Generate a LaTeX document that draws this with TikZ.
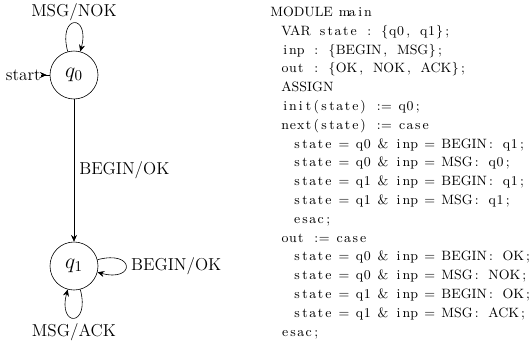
\documentclass[tikz,border=0pt]{standalone}
\usepackage{tikz}
\usetikzlibrary{positioning,arrows.meta}
\tikzstyle{stateStyle} = [circle, draw, minimum size=32pt, inner sep=0pt, font=\Large]
\tikzstyle{arrowLine} = [-{Stealth[length=4.5pt,width=4pt]}]
\tikzstyle{labelText} = [font=\fontsize{11.5}{13}\selectfont]
\tikzstyle{startText} = [labelText, anchor=east, inner sep=0pt]
\tikzstyle{codeLine} = [anchor=base west, inner sep=0pt, font=\small]
\newcommand{\codeWidth}{5.2pt}
% one fixed column per character, capitals at their own width
\ExplSyntaxOn
\NewDocumentCommand{\codeText}{m}{
  \str_map_inline:nn {#1} {
    \str_if_in:nnTF {ABCDEFGHIJKLMNOPQRSTUVWXYZ} {##1}
      {##1}
      {\makebox[\codeWidth]{##1}}
  }
}
\ExplSyntaxOff
\begin{document}
\begin{tikzpicture}[x=0.6667pt, y=0.6667pt]
  \useasboundingbox (0,0) rectangle (530,341);
  % automaton
  \node [stateStyle] (q0) at (74,266) {$q_0$};
  \node [stateStyle] (q1) at (74,75) {$q_1$};
  \node [startText] (start) at (41,266) {start};
  \draw [arrowLine, shorten >=2pt] (start) -- (q0);
  \draw (start) -- (q0);
  \draw [arrowLine] (q0) -- node [labelText, right] {BEGIN/OK} (q1);
  \draw [arrowLine] (q0) to [loop above] node [labelText, above, inner sep=1pt] {MSG/NOK} (q0);
  \draw [arrowLine] (q1) to [loop right] node [labelText, right] {BEGIN/OK} (q1);
  \draw [arrowLine] (q1) to [loop below] node [labelText, below] {MSG/ACK} (q1);
  % smv model
  \node [codeLine] (line0) at (270,324.5) {\codeText{MODULE main}};
  \node [codeLine] (line1) at (281,305.7) {\codeText{VAR state : {q0, q1};}};
  \node [codeLine] (line2) at (281,286.9) {\codeText{inp : {BEGIN, MSG};}};
  \node [codeLine] (line3) at (281,268.1) {\codeText{out : {OK, NOK, ACK};}};
  \node [codeLine] (line4) at (281,249.3) {\codeText{ASSIGN}};
  \node [codeLine] (line5) at (281,230.5) {\codeText{init(state) := q0;}};
  \node [codeLine] (line6) at (281,211.7) {\codeText{next(state) := case}};
  \node [codeLine] (line7) at (293,192.9) {\codeText{state = q0 & inp = BEGIN: q1;}};
  \node [codeLine] (line8) at (293,174.1) {\codeText{state = q0 & inp = MSG: q0;}};
  \node [codeLine] (line9) at (293,155.3) {\codeText{state = q1 & inp = BEGIN: q1;}};
  \node [codeLine] (line10) at (293,136.5) {\codeText{state = q1 & inp = MSG: q1;}};
  \node [codeLine] (line11) at (293,117.7) {\codeText{esac;}};
  \node [codeLine] (line12) at (281,98.9) {\codeText{out := case}};
  \node [codeLine] (line13) at (293,80.1) {\codeText{state = q0 & inp = BEGIN: OK;}};
  \node [codeLine] (line14) at (293,61.3) {\codeText{state = q0 & inp = MSG: NOK;}};
  \node [codeLine] (line15) at (293,42.5) {\codeText{state = q1 & inp = BEGIN: OK;}};
  \node [codeLine] (line16) at (293,23.7) {\codeText{state = q1 & inp = MSG: ACK;}};
  \node [codeLine] (line17) at (281,4.9) {\codeText{esac;}};
\end{tikzpicture}
\end{document}
